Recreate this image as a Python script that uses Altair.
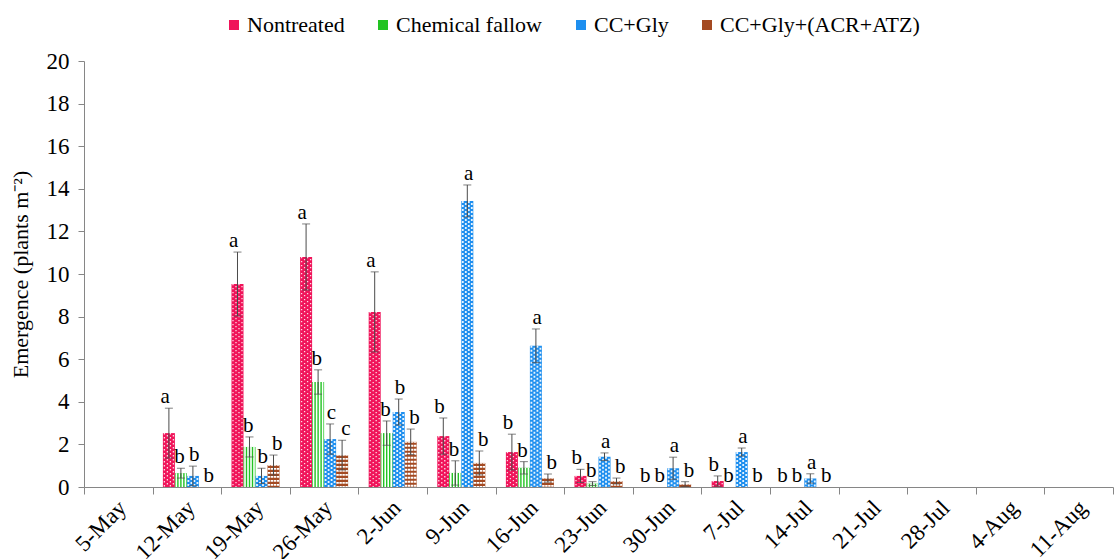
import math

import altair as alt
import pandas as pd

# Sampling weeks shown on the category axis
dates = ["5-May", "12-May", "19-May", "26-May", "2-Jun", "9-Jun", "16-Jun",
         "23-Jun", "30-Jun", "7-Jul", "14-Jul", "21-Jul", "28-Jul", "4-Aug", "11-Aug"]
# Weeks with recorded emergence
sample_dates = ["12-May", "19-May", "26-May", "2-Jun", "9-Jun", "16-Jun",
                "23-Jun", "30-Jun", "7-Jul", "14-Jul"]

series = ["Nontreated", "Chemical fallow", "CC+Gly", "CC+Gly+(ACR+ATZ)"]
colors = ["#F0145A", "#22C322", "#1E8FEF", "#A44A22"]

# Means, standard errors and mean-separation letters per treatment
nontreated = [2.53, 9.53, 10.80, 8.22, 2.39, 1.64, 0.52, 0.0, 0.28, 0.0]
nontreated_se = [1.17, 1.50, 1.55, 1.88, 0.85, 0.84, 0.31, 0.0, 0.24, 0.0]
nontreated_letters = ["a", "a", "a", "a", "b", "b", "b", "b", "b", "b"]

fallow = [0.65, 1.88, 4.93, 2.53, 0.66, 0.90, 0.16, 0.0, 0.0, 0.0]
fallow_se = [0.23, 0.47, 0.57, 0.57, 0.57, 0.29, 0.09, 0.0, 0.0, 0.0]
fallow_letters = ["b", "b", "b", "b", "b", "b", "b", "b", "b", "b"]

ccgly = [0.52, 0.52, 2.25, 3.52, 13.43, 6.63, 1.42, 0.88, 1.64, 0.40]
ccgly_se = [0.46, 0.36, 0.71, 0.61, 0.75, 0.79, 0.18, 0.52, 0.19, 0.22]
ccgly_letters = ["b", "b", "c", "b", "a", "a", "a", "a", "a", "a"]

ccgly_res = [0.0, 1.03, 1.50, 2.12, 1.13, 0.42, 0.28, 0.14, 0.0, 0.0]
ccgly_res_se = [0.0, 0.47, 0.70, 0.60, 0.56, 0.19, 0.14, 0.11, 0.0, 0.0]
ccgly_res_letters = ["b", "b", "c", "b", "b", "b", "b", "b", "b", "b"]

FONT = "Times New Roman, Liberation Serif, serif"
BAR_FRACTION = 0.7   # share of each week's slot taken by its four bars
SUBCOLS = 4          # pattern columns drawn inside each bar

rows = []
for name, vals, ses, lets in [
    (series[0], nontreated, nontreated_se, nontreated_letters),
    (series[1], fallow, fallow_se, fallow_letters),
    (series[2], ccgly, ccgly_se, ccgly_letters),
    (series[3], ccgly_res, ccgly_res_se, ccgly_res_letters),
]:
    for d, v, s, l in zip(sample_dates, vals, ses, lets):
        rows.append({"date": d, "series": name, "value": v, "se": s,
                     "low": max(v - s, 0.0), "top": v + s, "letter": l})
df = pd.DataFrame(rows)

# Pattern strokes: one row per bar and pattern column
pat_rows = []
for r in rows:
    if r["value"] <= 0:
        continue
    si = series.index(r["series"])
    for j in range(SUBCOLS):
        pat_rows.append({"date": r["date"], "series": r["series"],
                         "key": f"{si}-{j}", "parity": j % 2, "value": r["value"]})
pat = pd.DataFrame(pat_rows)
pat_keys = [f"{i}-{j}" for i in range(len(series)) for j in range(SUBCOLS)]


def offset_scale(domain):
    """Band scale whose bands fill BAR_FRACTION of the week slot, centred."""
    n = len(domain)
    pad = (n / BAR_FRACTION - n) / 2
    k = int(math.floor(pad))
    full = ([f"_l{i}" for i in range(k)] + list(domain) +
            [f"_r{i}" for i in range(k)])
    return alt.Scale(domain=full, paddingInner=0, paddingOuter=pad - k)


x_enc = alt.X(
    "date:N", sort=dates,
    scale=alt.Scale(domain=dates, paddingInner=0, paddingOuter=0),
    axis=alt.Axis(title=None, tickBand="extent", labelAngle=-45, labelAlign="right",
                  labelBaseline="middle", labelPadding=10, labelOffset=4,
                  labelFont=FONT, labelFontSize=23, labelColor="black",
                  tickSize=7, tickColor="#868686", domainColor="#868686"),
)
y_scale = alt.Scale(domain=[0, 20], nice=False)
y_enc = alt.Y(
    "value:Q", scale=y_scale,
    axis=alt.Axis(title="Emergence  (plants m⁻²)", values=list(range(0, 21, 2)),
                  grid=False, labelFont=FONT, labelFontSize=23, labelColor="black",
                  labelPadding=9, tickSize=6, tickColor="#868686", domainColor="#868686",
                  titleFont=FONT, titleFontSize=22, titleFontWeight="normal",
                  titleColor="black", titlePadding=14),
)
series_offset = alt.XOffset("series:N", scale=offset_scale(series))

bars = alt.Chart(df).transform_filter("datum.value > 0").mark_bar().encode(
    x=x_enc,
    xOffset=series_offset,
    y=y_enc,
    color=alt.Color(
        "series:N", sort=series,
        scale=alt.Scale(domain=series, range=colors),
        legend=alt.Legend(title=None, orient="none", direction="horizontal",
                          legendX=139, legendY=-47, symbolType="square",
                          symbolSize=100, symbolStrokeWidth=0, labelFont=FONT,
                          labelFontSize=22, labelColor="black", labelOffset=2,
                          labelLimit=400, columnPadding=27),
    ),
)


def pattern(name, parity, color, width, dash=None, dash_offset=0, opacity=1.0):
    props = dict(color=color, strokeWidth=width, opacity=opacity)
    if dash is not None:
        props["strokeDash"] = dash
        props["strokeDashOffset"] = dash_offset
    filt = f"datum.series === '{name}'"
    if parity is not None:
        filt += f" && datum.parity === {parity}"
    return alt.Chart(pat).transform_filter(filt).mark_rule(**props).encode(
        x=alt.X("date:N", sort=dates),
        xOffset=alt.XOffset("key:N", scale=offset_scale(pat_keys)),
        y=alt.Y("value:Q", scale=y_scale),
        y2=alt.datum(0),
    )


patterns = [
    pattern(series[0], 0, "white", 1.3, [1.3, 2.7], 0, 0.85),
    pattern(series[0], 1, "white", 1.3, [1.3, 2.7], 2, 0.85),
    pattern(series[1], None, "white", 1.6),
    pattern(series[2], 0, "white", 1.8, [2, 2], 0, 0.9),
    pattern(series[2], 1, "white", 1.8, [2, 2], 2, 0.9),
    pattern(series[3], None, "white", 2.4, [1.8, 2.2], 1),
]

err_base = alt.Chart(df).transform_filter("datum.se > 0")
err_rule = err_base.mark_rule(color="#4a4a4a", strokeWidth=1).encode(
    x=alt.X("date:N", sort=dates), xOffset=series_offset,
    y=alt.Y("low:Q", scale=y_scale), y2="top:Q",
)
cap_top = err_base.mark_tick(color="#4a4a4a", size=8, thickness=1).encode(
    x=alt.X("date:N", sort=dates), xOffset=series_offset,
    y=alt.Y("top:Q", scale=y_scale),
)
cap_low = err_base.mark_tick(color="#4a4a4a", size=8, thickness=1).encode(
    x=alt.X("date:N", sort=dates), xOffset=series_offset,
    y=alt.Y("low:Q", scale=y_scale),
)
letters = alt.Chart(df).mark_text(
    font=FONT, fontSize=21, color="black", baseline="alphabetic", dy=-5
).encode(
    x=alt.X("date:N", sort=dates), xOffset=series_offset,
    y=alt.Y("top:Q", scale=y_scale), text="letter:N",
)

chart = alt.layer(
    bars, *patterns, err_rule, cap_top, cap_low, letters
).resolve_scale(xOffset="independent").properties(
    width=1029, height=426,
    autosize=alt.AutoSizeParams(type="none"),
    padding={"left": 84, "top": 61, "right": 2, "bottom": 72},
    background="white",
).configure_view(stroke=None)

chart.save("out.html", embed_options={"renderer": "svg", "actions": False})
